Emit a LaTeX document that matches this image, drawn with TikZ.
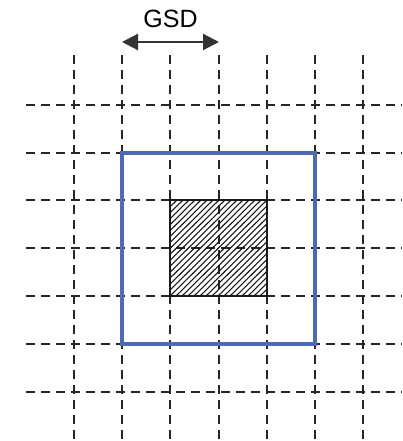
\documentclass[tikz,border=0pt]{standalone}
\usepackage{fontspec}
\setmainfont{Liberation Sans}
\usetikzlibrary{arrows.meta}
\definecolor{gsdblue}{RGB}{80,105,180}
\begin{document}
\begin{tikzpicture}[x=1pt,y=-1pt,
  grid/.style={dash pattern=on 9pt off 6pt,line width=2pt,black!85},
  hatch/.style={line width=1.1pt,black!90},
  pix/.style={line width=2pt,black!90},
  win/.style={line width=3.6pt,gsdblue},
  gsdarr/.style={line width=2.2pt,black!80,{Triangle[length=16pt,width=16pt]}-{Triangle[length=16pt,width=16pt]}}]
 \useasboundingbox (0,0) rectangle (402,441);
 % ground grid
 \foreach \y in {105,153,200,248,296,344,392}
   \draw[grid] (26,\y) -- (402,\y);
 \foreach \x in {74,122,170,219,267,315,363}
   \draw[grid] (\x,55) -- (\x,441);
 % hatched pixel
 \begin{scope}
  \clip (170,200) rectangle (267,296);
  \foreach \k in {-102,-96,...,102}
    \draw[hatch] (170+\k,296) -- (267+\k,200);
 \end{scope}
 \draw[pix] (170,200) rectangle (267,296);
 % window
 \draw[win] (122,153) rectangle (315,344);
 % ground sampling distance
 \coordinate (gsdl) at (122,42);
 \coordinate (gsdr) at (219,42);
 \node[font=\fontsize{25}{28}\selectfont] (gsd) at (170.5,19) {GSD};
 \draw[gsdarr] (gsdl) -- (gsdr);
\end{tikzpicture}
\end{document}
